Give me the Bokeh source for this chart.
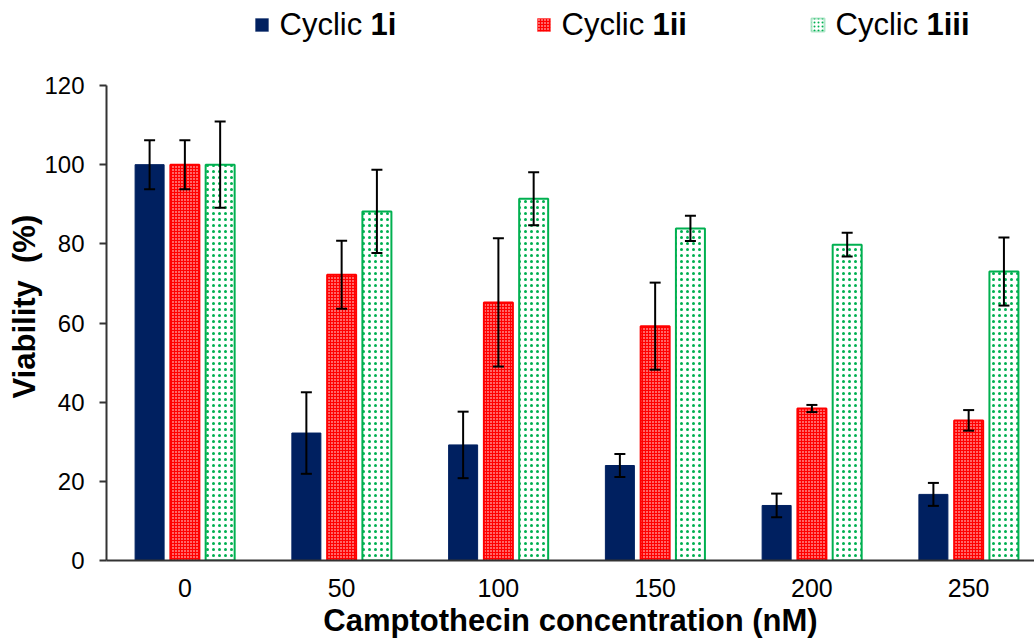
import numpy as np
from bokeh.plotting import figure
from bokeh.models import (ColumnDataSource, Range1d, FixedTicker, Whisker, TeeHead,
                          Label, BoxAnnotation, Title)
from bokeh.transform import dodge
from bokeh.embed import file_html
from bokeh.resources import INLINE

concentrations = ["0", "50", "100", "150", "200", "250"]
cyc_1i = [100, 32.2, 29.2, 24.0, 13.9, 16.7]
cyc_1i_err = [6.2, 10.3, 8.4, 2.9, 3.0, 2.9]
cyc_1ii = [100, 72.2, 65.2, 59.2, 38.4, 35.4]
cyc_1ii_err = [6.2, 8.6, 16.2, 11.0, 0.9, 2.6]
cyc_1iii = [100, 88.2, 91.4, 83.9, 79.8, 73.0]
cyc_1iii_err = [10.9, 10.5, 6.7, 3.2, 3.0, 8.6]

FONT = "Liberation Sans"
idx = np.arange(len(concentrations))

src = ColumnDataSource(dict(
    x=idx,
    a=cyc_1i, a_lo=np.array(cyc_1i) - np.array(cyc_1i_err), a_hi=np.array(cyc_1i) + np.array(cyc_1i_err),
    b=cyc_1ii, b_lo=np.array(cyc_1ii) - np.array(cyc_1ii_err), b_hi=np.array(cyc_1ii) + np.array(cyc_1ii_err),
    c=cyc_1iii, c_lo=np.array(cyc_1iii) - np.array(cyc_1iii_err), c_hi=np.array(cyc_1iii) + np.array(cyc_1iii_err),
))

# frame spans the full height above the x axis; y axis line limited to 0..120
p = figure(width=1034, height=641, output_backend="svg", toolbar_location=None,
           x_range=Range1d(-0.5, 5.42), y_range=Range1d(0, 120 * 560 / 475),
           min_border_left=106, min_border_right=0, min_border_top=0, min_border_bottom=81)
p.outline_line_color = None
p.xgrid.grid_line_color = None
p.ygrid.grid_line_color = None
p.background_fill_color = "white"
p.border_fill_color = "white"

W = 0.185
OFF = 0.225
BLUE = "#002060"
RED = "#ff0000"
GREEN = "#00b050"

p.vbar(x=dodge("x", -OFF), top="a", width=W, source=src,
       fill_color=BLUE, line_color=BLUE, line_width=1)
p.vbar(x=dodge("x", 0), top="b", width=W, source=src,
       fill_color=RED, line_color=RED, line_width=2,
       hatch_pattern="dot", hatch_color="white", hatch_scale=3, hatch_weight=1.4)
p.vbar(x=dodge("x", OFF), top="c", width=W, source=src,
       fill_color="white", line_color=GREEN, line_width=2,
       hatch_pattern="dot", hatch_color=GREEN, hatch_scale=6, hatch_weight=2)

for key, off in (("a", -OFF), ("b", 0), ("c", OFF)):
    w = Whisker(base=dodge("x", off), upper=key + "_hi", lower=key + "_lo", source=src,
                line_color="black", line_width=2, level="overlay",
                upper_head=TeeHead(size=11, line_color="black", line_width=2),
                lower_head=TeeHead(size=11, line_color="black", line_width=2))
    p.add_layout(w)

# axes
p.xaxis.ticker = FixedTicker(ticks=list(idx))
p.xaxis.major_label_overrides = {int(i): c for i, c in zip(idx, concentrations)}
p.xaxis.major_tick_line_color = None
p.xaxis.minor_tick_line_color = None
p.xaxis.axis_line_color = "#333333"
p.xaxis.axis_line_width = 2
p.xaxis.major_label_text_font = FONT
p.xaxis.major_label_text_font_size = "25px"
p.xaxis.major_label_text_color = "black"
p.xaxis.major_label_standoff = 12
p.xaxis.axis_label = "Camptothecin concentration (nM)"
p.xaxis.axis_label_text_font = FONT
p.xaxis.axis_label_text_font_size = "31px"
p.xaxis.axis_label_text_font_style = "bold"
p.xaxis.axis_label_text_color = "black"
p.xaxis.axis_label_standoff = 3

p.yaxis.ticker = FixedTicker(ticks=[0, 20, 40, 60, 80, 100, 120])
p.yaxis.bounds = (0, 120)
p.yaxis.minor_tick_line_color = None
p.yaxis.major_tick_out = 7
p.yaxis.major_tick_in = 0
p.yaxis.major_tick_line_color = "#333333"
p.yaxis.major_tick_line_width = 2
p.yaxis.axis_line_color = "#333333"
p.yaxis.axis_line_width = 2
p.yaxis.major_label_text_font = FONT
p.yaxis.major_label_text_font_size = "24px"
p.yaxis.major_label_text_color = "black"
p.yaxis.major_label_standoff = 15

# y axis title as a side title so that it can be positioned along the axis
p.add_layout(Title(text="Viability\u00a0\u00a0(%)", align="left", offset=162,
                   text_font=FONT, text_font_size="31px", text_font_style="bold",
                   text_color="black", standoff=0), "left")

# manual legend (screen units relative to the frame)
legend_items = [
    ("1i", 255 - 106, dict(fill_color=BLUE, line_color=BLUE)),
    ("1ii", 537 - 106, dict(fill_color=RED, line_color=RED, hatch_pattern="dot",
                            hatch_color="white", hatch_scale=3, hatch_weight=1.4)),
    ("1iii", 811 - 106, dict(fill_color="white", line_color=GREEN, line_width=2,
                             hatch_pattern="dot", hatch_color=GREEN, hatch_scale=4, hatch_weight=1.5)),
]
LEG_Y = 560 - 24
for name, x0, style in legend_items:
    box = BoxAnnotation(left=x0, right=x0 + 13, bottom=LEG_Y - 7, top=LEG_Y + 6,
                        left_units="screen", right_units="screen",
                        bottom_units="screen", top_units="screen",
                        fill_alpha=1, level="overlay", **style)
    p.add_layout(box)
    tx = x0 + 24
    p.add_layout(Label(x=tx, y=LEG_Y, x_units="screen", y_units="screen",
                       text="Cyclic", text_font=FONT, text_font_size="31px",
                       text_baseline="middle", text_align="left", text_color="black"))
    p.add_layout(Label(x=tx + 91, y=LEG_Y, x_units="screen", y_units="screen",
                       text=name, text_font=FONT, text_font_size="31px", text_font_style="bold",
                       text_baseline="middle", text_align="left", text_color="black"))

open("out.html", "w").write(file_html(p, INLINE))
